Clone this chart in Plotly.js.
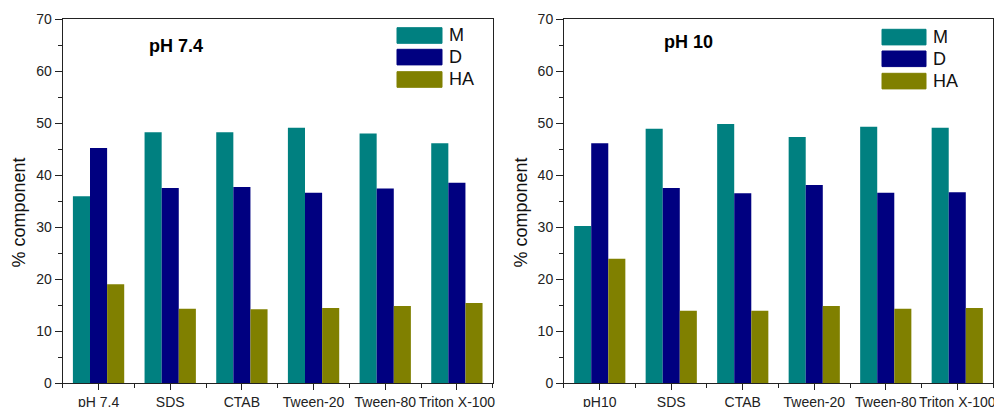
<!DOCTYPE html>
<html>
<head>
<meta charset="utf-8">
<script src="https://cdn.plot.ly/plotly-3.0.1.min.js"></script>
<style>html,body{margin:0;padding:0;background:#fff;}#chart{width:994px;height:407px;}</style>
</head>
<body>
<div id="chart"></div>
<script>
const categoriesLeft = ["pH 7.4", "SDS", "CTAB", "Tween-20", "Tween-80", "Triton X-100"];
const categoriesRight = ["pH10", "SDS", "CTAB", "Tween-20", "Tween-80", "Triton X-100"];
const seriesNames = ["M", "D", "HA"];
const seriesColors = ["#008080", "#000080", "#808000"];

const leftM  = [35.9, 48.2, 48.2, 49.1, 48.0, 46.1];
const leftD  = [45.2, 37.5, 37.7, 36.6, 37.4, 38.5];
const leftHA = [19.0, 14.3, 14.2, 14.4, 14.8, 15.4];

const rightM  = [30.2, 48.9, 49.8, 47.3, 49.3, 49.1];
const rightD  = [46.1, 37.5, 36.5, 38.1, 36.6, 36.7];
const rightHA = [23.9, 13.9, 13.9, 14.8, 14.3, 14.4];

const panelTitles = ["pH 7.4", "pH 10"];
const yTitle = "% component";

const FONT = "Liberation Sans, Arial, sans-serif";
const W = 994, H = 407, MT = 19, MB = 24;
const PH = H - MT - MB;
const leftVals = [leftM, leftD, leftHA];
const rightVals = [rightM, rightD, rightHA];

// pixel helpers for decorations (legend swatches, titles)
const px = x => x / W;
const py = y => (H - MB - y) / PH;

const traces = [];
function addPanel(cats, vals, xa, ya) {
  const idx = cats.map((c, i) => i);
  vals.forEach((v, k) => {
    traces.push({
      type: "bar", x: idx, y: v, xaxis: xa, yaxis: ya,
      name: seriesNames[k], marker: {color: seriesColors[k], line: {width: 0}},
      showlegend: false, hoverinfo: "y"
    });
  });
}
addPanel(categoriesLeft, leftVals, "x", "y");
addPanel(categoriesRight, rightVals, "x2", "y2");

function xAxis(cats, domain, anchor) {
  return {
    domain: domain, anchor: anchor, range: [-0.5, cats.length - 0.5],
    tickmode: "array", tickvals: cats.map((c, i) => i), ticktext: cats,
    ticks: "outside", ticklen: 6, tickwidth: 1, tickcolor: "#222",
    minor: {ticks: "outside", ticklen: 4, tick0: 0.5, dtick: 1, tickwidth: 1, tickcolor: "#222", showgrid: false},
    showline: true, mirror: true, linecolor: "#222", linewidth: 1,
    showgrid: false, zeroline: false, fixedrange: true, automargin: false,
    ticklabeloverflow: "allow",
    tickfont: {family: FONT, size: 14, color: "#222"}
  };
}
function yAxis(anchor) {
  return {
    domain: [0, 1], anchor: anchor, range: [0, 70], dtick: 10, tick0: 0,
    ticks: "outside", ticklen: 7, tickwidth: 1, tickcolor: "#222",
    minor: {ticks: "outside", ticklen: 4, dtick: 5, tickwidth: 1, tickcolor: "#222", showgrid: false},
    showline: true, mirror: true, linecolor: "#222", linewidth: 1,
    showgrid: false, zeroline: false, automargin: false,
    tickfont: {family: FONT, size: 14, color: "#222"}
  };
}

// legend swatches + labels (pixel positions of the reference legend boxes)
const legendBoxes = [
  {x0: 397, x1: 442, tx: 447, ys: [27.7, 49.3, 71.7]},
  {x0: 882, x1: 926, tx: 931, ys: [29.3, 51.0, 73.3]}
];
const shapes = [];
const annotations = [];
legendBoxes.forEach(b => {
  seriesNames.forEach((n, k) => {
    const y0 = b.ys[k], y1 = y0 + 15.6;
    shapes.push({type: "rect", xref: "paper", yref: "paper",
      x0: px(b.x0), x1: px(b.x1), y0: py(y1), y1: py(y0),
      fillcolor: seriesColors[k], line: {width: 1, color: seriesColors[k]}, opacity: 1});
    annotations.push({text: n, xref: "paper", yref: "paper", x: px(b.tx), y: py((y0 + y1) / 2),
      xanchor: "left", yanchor: "middle", showarrow: false,
      font: {family: FONT, size: 18, color: "#111"}});
  });
});

// panel titles
annotations.push({text: "<b>" + panelTitles[0] + "</b>", xref: "paper", yref: "paper", x: px(175.5), y: py(45.7),
  xanchor: "center", yanchor: "middle", showarrow: false, font: {family: FONT, size: 18, color: "#000"}});
annotations.push({text: "<b>" + panelTitles[1] + "</b>", xref: "paper", yref: "paper", x: px(688), y: py(41.7),
  xanchor: "center", yanchor: "middle", showarrow: false, font: {family: FONT, size: 18, color: "#000"}});
// y titles
[18, 520].forEach(xc => {
  annotations.push({text: yTitle, xref: "paper", yref: "paper", x: px(xc), y: py(212.5),
    xanchor: "center", yanchor: "middle", textangle: -90, showarrow: false,
    font: {family: FONT, size: 18, color: "#111"}});
});

const layout = {
  width: W, height: H,
  margin: {l: 0, r: 0, t: MT, b: MB, pad: 0},
  paper_bgcolor: "#fff", plot_bgcolor: "#fff",
  barmode: "group", bargap: 0.284, bargroupgap: 0,
  showlegend: false,
  xaxis: xAxis(categoriesLeft, [0.0631, 0.4957], "y"),
  yaxis: yAxis("x"),
  xaxis2: xAxis(categoriesRight, [0.5674, 0.999], "y2"),
  yaxis2: yAxis("x2"),
  shapes: shapes,
  annotations: annotations
};

Plotly.newPlot("chart", traces, layout, {displayModeBar: false, staticPlot: true});
</script>
</body>
</html>
